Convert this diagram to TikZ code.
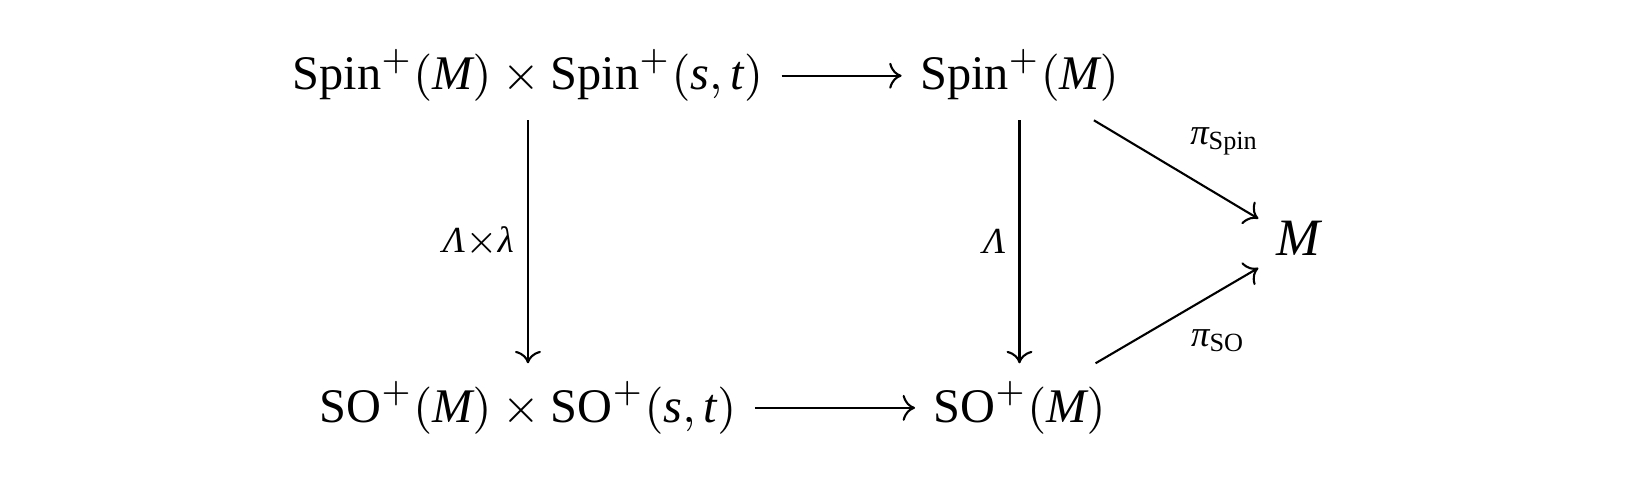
\documentclass[tikz,border=0pt]{standalone}
\usepackage{fontspec}
\setmainfont{Liberation Serif}
\usetikzlibrary{calc}
\usetikzlibrary{arrows.meta}
\tikzstyle{objnode} = [anchor=base, font=\fontsize{9.2pt}{11pt}\selectfont]
\tikzstyle{maplabel} = [midway, inner sep=2.5pt, font=\scriptsize]
\tikzstyle{mapto} = [-{To[scale=0.95]}]

\begin{document}
\begin{tikzpicture}
  \useasboundingbox (0,0) rectangle (11.031,-3.307);

  \node[objnode] (SpinMst) at (3.534,-0.602) {$\mathrm{Spin}^{+}(\mathit{M})\times\mathrm{Spin}^{+}(\mathit{s},\mathit{t})$};
  \node[objnode] (SpinM) at ($(SpinMst.base)+(3.29,0)$) {$\mathrm{Spin}^{+}(\mathit{M})$};
  \node[objnode] (SOMst) at ($(SpinMst.base)+(0,-2.223)$) {$\mathrm{SO}^{+}(\mathit{M})\times\mathrm{SO}^{+}(\mathit{s},\mathit{t})$};
  \node[objnode] (SOM) at ($(SpinM.base)+(0,-2.223)$) {$\mathrm{SO}^{+}(\mathit{M})$};
  \node[objnode, font=\normalsize, text depth=2.2pt] (M) at ($(SpinM.base)+(1.877,-1.105)$) {\textit{M}};

  \draw[mapto] (SpinMst) -- (SpinM);
  \draw[mapto] (SOMst) -- (SOM);
  \draw[mapto] (SpinMst) -- node[maplabel, left] {\textit{Λ}$\times$\textit{λ}} (SOMst);
  \draw[mapto] (SpinM) -- node[maplabel, left] {\textit{Λ}} (SOM);
  \draw[mapto] (SpinM) -- node[maplabel, above right] {$\hbox{\scriptsize\itshape π}_{\mathrm{Spin}}$} (M);
  \draw[mapto] (SOM) -- node[maplabel, below right] {$\hbox{\scriptsize\itshape π}_{\mathrm{SO}}$} (M);
\end{tikzpicture}
\end{document}
